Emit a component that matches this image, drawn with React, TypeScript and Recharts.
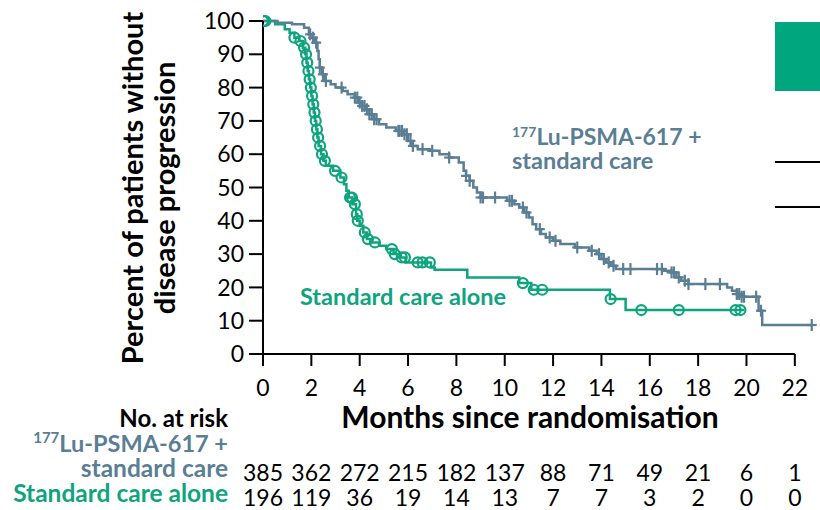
import React from 'react';
import { ComposedChart, Line, Scatter, XAxis, YAxis, ReferenceLine } from 'recharts';

const FONT = 'Lato, "Open Sans", sans-serif';
const BLUE = '#5a7e94';
const GREEN = '#0fa47e';

const months = [0, 2, 4, 6, 8, 10, 12, 14, 16, 18, 20, 22];
const luAtRisk = [385, 362, 272, 215, 182, 137, 88, 71, 49, 21, 6, 1];
const socAtRisk = [196, 119, 36, 19, 14, 13, 7, 7, 3, 2, 0, 0];
const yTicks = [0, 10, 20, 30, 40, 50, 60, 70, 80, 90, 100];

const luTimes = [0, 0.6, 1.2, 1.7, 1.9, 2.05, 2.15, 2.25, 2.3, 2.35, 2.45, 2.55, 2.8, 3.0, 3.3, 3.5, 3.8, 3.95, 4.1, 4.25, 4.4, 4.6, 4.8, 5.1, 5.5, 5.8, 6.0, 6.15, 6.4, 6.9, 7.3, 7.7, 8.1, 8.3, 8.4, 8.55, 8.7, 8.85, 9.0, 10.1, 10.4, 10.6, 10.8, 11.0, 11.15, 11.3, 11.5, 11.7, 12.0, 12.3, 12.9, 13.5, 13.8, 14.0, 14.2, 14.4, 14.6, 16.6, 16.9, 17.1, 17.3, 17.6, 19.2, 19.4, 19.6, 19.8, 20.5, 20.65, 22.7];
const luSurv = [100, 99.5, 99, 98, 96, 95, 93.5, 91, 88.5, 86, 84, 82, 81, 80, 79, 78, 77, 75.5, 74.5, 73.5, 72, 70.5, 69, 68, 67, 66, 64, 62.5, 61.5, 61, 60, 59, 57.5, 55, 53.5, 52, 50, 48.5, 47, 46, 45, 44, 42.5, 41, 39, 37.5, 36, 35, 34, 33, 32, 31, 30, 28.5, 27.5, 26.5, 25.5, 25, 24.5, 23, 22, 21, 20, 19, 18, 17.2, 13, 8.7, 8.7];
const luCensorTimes = [1.95, 2.07, 2.2, 2.35, 2.48, 2.6, 3.25, 3.8, 3.9, 4.0, 4.1, 4.2, 4.3, 4.4, 4.5, 4.6, 4.7, 5.6, 5.65, 5.75, 5.85, 5.95, 6.1, 6.2, 6.6, 7.0, 7.7, 8.4, 8.55, 9.0, 9.1, 9.6, 10.2, 10.3, 10.75, 10.9, 11.45, 11.86, 12.1, 13.0, 13.6, 13.9, 14.1, 14.3, 14.5, 14.9, 15.2, 16.3, 16.5, 16.9, 17.0, 17.2, 17.45, 17.6, 18.3, 18.9, 19.6, 19.7, 19.8, 19.9, 20.4, 20.6, 22.7];

const socTimes = [0, 0.5, 0.9, 1.1, 1.3, 1.5, 1.65, 1.75, 1.8, 1.85, 1.9, 1.95, 2.0, 2.05, 2.1, 2.15, 2.2, 2.25, 2.3, 2.4, 2.5, 2.6, 2.9, 3.2, 3.35, 3.45, 3.55, 3.7, 3.85, 3.9, 4.0, 4.15, 4.3, 4.45, 4.8, 5.1, 5.4, 5.7, 5.9, 6.95, 7.1, 8.45, 10.6, 11.1, 14.35, 15.0, 19.9];
const socSurv = [100, 99, 97.5, 96.5, 95, 94, 92, 90, 87.5, 85, 82.5, 80, 77.5, 75, 72.5, 70, 67.5, 65, 62.5, 60, 58, 56.5, 55, 53, 51, 49, 47, 45, 42, 40, 38.5, 36.5, 34.5, 33.5, 32.5, 31.5, 30, 29, 27.5, 26, 25.3, 23, 21.3, 19.3, 16.5, 13.2, 13.2];
const socCensorTimes = [0, 0.05, 0.1, 1.3, 1.55, 1.7, 1.78, 1.83, 1.88, 1.93, 1.98, 2.03, 2.08, 2.13, 2.18, 2.23, 2.28, 2.36, 2.44, 2.56, 2.98, 3.25, 3.6, 3.68, 3.8, 3.88, 3.92, 4.21, 4.34, 4.63, 5.33, 5.45, 5.74, 5.87, 6.4, 6.6, 6.9, 10.75, 11.2, 11.55, 14.38, 15.65, 17.2, 19.55, 19.75];

const toCurve = (times: number[], surv: number[]) => times.map((t, i) => ({ t, v: surv[i] }));
const stepAt = (times: number[], surv: number[], t: number) => {
  let v = surv[0];
  for (let i = 0; i < times.length; i++) if (times[i] <= t + 1e-9) v = surv[i];
  return v;
};
const toCensor = (ct: number[], times: number[], surv: number[]) => ct.map((t) => ({ t, v: stepAt(times, surv, t) }));

const luCurve = toCurve(luTimes, luSurv);
const socCurve = toCurve(socTimes, socSurv);
const luCensor = toCensor(luCensorTimes, luTimes, luSurv);
const socCensor = toCensor(socCensorTimes, socTimes, socSurv);

const PlusShape = (p: any) => (
  <g>
    <line x1={p.cx} y1={p.cy - 6} x2={p.cx} y2={p.cy + 6} stroke={BLUE} strokeWidth={2.2} />
    <line x1={p.cx - 5} y1={p.cy} x2={p.cx + 5} y2={p.cy} stroke={BLUE} strokeWidth={2.2} />
  </g>
);
const CircleShape = (p: any) => (
  <circle cx={p.cx} cy={p.cy} r={5} fill="none" stroke={GREEN} strokeWidth={2.2} />
);

const XTick = (props: any) => {
  const { x, y, payload } = props;
  const i = months.indexOf(payload.value);
  return (
    <g fontFamily={FONT} fontSize={23} fill="#000">
      <text x={x} y={y + 28} textAnchor="middle">{payload.value}</text>
      <text x={x} y={y + 113} textAnchor="middle">{luAtRisk[i]}</text>
      <text x={x} y={y + 138} textAnchor="middle">{socAtRisk[i]}</text>
    </g>
  );
};

export default function App() {
  return (
    <div style={{ position: 'absolute', left: 0, top: 0, width: 820, height: 510, background: '#fff' }}>
      <ComposedChart width={820} height={510} margin={{ top: 21, right: 1, bottom: 116, left: 183 }}>
        <XAxis
          type="number"
          dataKey="t"
          domain={[0, 23]}
          ticks={months}
          interval={0}
          allowDataOverflow
          axisLine={false}
          tickLine={{ stroke: '#000', strokeWidth: 2 }}
          tickSize={12}
          tickMargin={2}
          tick={<XTick />}
          height={40}
        />
        <YAxis
          type="number"
          dataKey="v"
          domain={[0, 100]}
          ticks={yTicks}
          interval={0}
          width={80}
          axisLine={{ stroke: '#000', strokeWidth: 2 }}
          tickLine={{ stroke: '#000', strokeWidth: 2 }}
          tickSize={14}
          tickMargin={5}
          tick={{ fill: '#000', fontSize: 23, fontFamily: FONT }}
        />
        <ReferenceLine segment={[{ x: 0, y: 0 }, { x: 22, y: 0 }]} stroke="#000" strokeWidth={2} ifOverflow="visible" />
        <Line data={socCurve} dataKey="v" type="stepAfter" stroke={GREEN} strokeWidth={2.5} dot={false} isAnimationActive={false} />
        <Line data={luCurve} dataKey="v" type="stepAfter" stroke={BLUE} strokeWidth={2.5} dot={false} isAnimationActive={false} />
        <Scatter data={luCensor} dataKey="v" shape={PlusShape} isAnimationActive={false} />
        <Scatter data={socCensor} dataKey="v" shape={CircleShape} isAnimationActive={false} />
      </ComposedChart>
      <svg width={820} height={510} style={{ position: 'absolute', left: 0, top: 0, pointerEvents: 'none' }} fontFamily={FONT}>
        <g transform="translate(143,188) rotate(-90)" fontWeight={700} fontSize={29} fill="#000" textAnchor="middle">
          <text x={0} y={0}>Percent of patients without</text>
          <text x={0} y={32}>disease progression</text>
        </g>
        <text x={530} y={428} textAnchor="middle" fontWeight={700} fontSize={30} fill="#000">Months since randomisation</text>
        <text x={228} y={427} textAnchor="end" fontWeight={700} fontSize={24} fill="#000">No. at risk</text>
        <text x={228} y={452} textAnchor="end" fontWeight={700} fontSize={23.5} fill={BLUE}>
          <tspan fontSize={15} dy={-9}>177</tspan><tspan dy={9}>Lu-PSMA-617 +</tspan>
        </text>
        <text x={228} y={477} textAnchor="end" fontWeight={700} fontSize={24.5} fill={BLUE}>standard care</text>
        <text x={228} y={502} textAnchor="end" fontWeight={700} fontSize={24.5} fill={GREEN}>Standard care alone</text>
        <text x={512} y={145} fontWeight={700} fontSize={23} fill={BLUE}>
          <tspan fontSize={14} dy={-8}>177</tspan><tspan dy={8}>Lu-PSMA-617 +</tspan>
        </text>
        <text x={512} y={169} fontWeight={700} fontSize={23.5} fill={BLUE}>standard care</text>
        <text x={300} y={305} fontWeight={700} fontSize={23.5} fill={GREEN}>Standard care alone</text>
        <rect x={775} y={22} width={45} height={69} fill="#00a67e" />
        <line x1={775} y1={162} x2={820} y2={162} stroke="#000" strokeWidth={2} />
        <line x1={775} y1={207} x2={820} y2={207} stroke="#000" strokeWidth={2} />
      </svg>
    </div>
  );
}
